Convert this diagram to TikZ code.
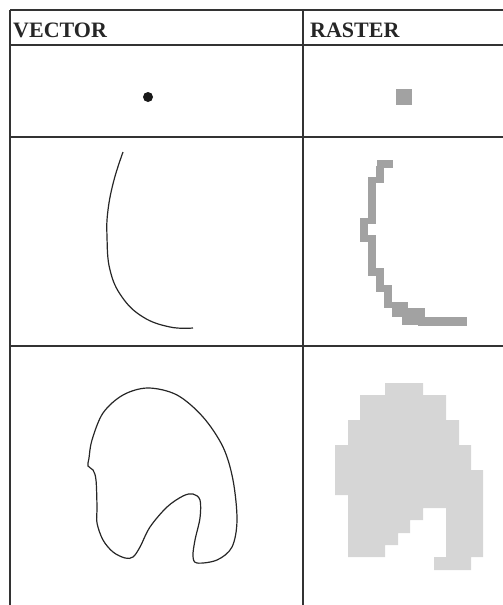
\documentclass[tikz,border=0pt]{standalone}
\usepackage{fontspec}
\setmainfont{Liberation Serif}
\definecolor{rule}{HTML}{333333}
\definecolor{rasterdark}{HTML}{A2A2A2}
\definecolor{rasterlight}{HTML}{D6D6D6}
\tikzset{
  gridline/.style={draw=rule, line width=1.8pt},
  headtext/.style={anchor=base west, inner sep=0pt, font=\fontsize{22}{26}\selectfont\bfseries, text=black!85},
  vecline/.style={draw=black!85, line width=1.2pt},
  rasterA/.style={fill=rasterdark, draw=none},
  rasterB/.style={fill=rasterlight, draw=none}
}
\begin{document}
\begin{tikzpicture}[x=1pt,y=-1pt]
\useasboundingbox (0,0) rectangle (503,605);
% table coordinates
\coordinate (tl) at (10,10);
\coordinate (tr) at (503,10);
\coordinate (h1l) at (10,45);
\coordinate (h1r) at (503,45);
\coordinate (r1l) at (10,137);
\coordinate (r1r) at (503,137);
\coordinate (r2l) at (10,346);
\coordinate (r2r) at (503,346);
\coordinate (bl) at (10,605);
\coordinate (mt) at (303,10);
\coordinate (mb) at (303,605);
\draw[gridline] (tl) -- (tr);
\draw[gridline] (h1l) -- (h1r);
\draw[gridline] (r1l) -- (r1r);
\draw[gridline] (r2l) -- (r2r);
\draw[gridline] (tl) -- (bl);
\draw[gridline] (mt) -- (mb);
% headers
\node[headtext] (hv) at (13,37) {VECTOR};
\node[headtext] (hr) at (310,37) {RASTER};
% row 1: point
\fill[black!90] (148,97) circle (5);
\fill[rasterA] (396,89) rectangle (412,105);
% row 2: curve
\draw[vecline] plot[smooth, tension=0.7] coordinates {(123,152) (114,180) (108,210) (107,237) (110,270) (122,297) (143,317) (170,327) (193,328)};
\fill[rasterA] (377,160) rectangle (393,168);
\fill[rasterA] (376,166) rectangle (384,183);
\fill[rasterA] (368,177) rectangle (376,224);
\fill[rasterA] (360,218) rectangle (368,242);
\fill[rasterA] (368,235) rectangle (376,276);
\fill[rasterA] (376,268) rectangle (384,292);
\fill[rasterA] (384,285) rectangle (392,308);
\fill[rasterA] (392,302) rectangle (408,317);
\fill[rasterA] (402,308) rectangle (425,325);
\fill[rasterA] (418,317) rectangle (467,326);
% row 3: area
\draw[vecline] plot[smooth cycle, tension=0.55] coordinates {
 (148,388) (177,395) (203,417) (223,447) (233,480) (237,520) (232,547) (217,560) (197,563)
 (193,556) (195,540) (200,518) (200,500) (193,494) (183,496) (167,507) (150,527) (140,547)
 (133,557) (125,558) (113,552) (103,540) (97,523) (97,507) (96,480) (93,470) (88,466)
 (89,458) (92,440) (103,413) (123,395)};
\fill[rasterB] (385,383) -- (423,383) -- (423,395) -- (446,395) -- (446,420) -- (459,420)
 -- (459,445) -- (471,445) -- (471,470) -- (483,470) -- (483,557) -- (471,557) -- (471,570)
 -- (434,570) -- (434,557) -- (446,557) -- (446,508) -- (423,508) -- (423,520) -- (410,520)
 -- (410,533) -- (398,533) -- (398,545) -- (385,545) -- (385,557) -- (348,557) -- (348,495)
 -- (335,495) -- (335,445) -- (348,445) -- (348,420) -- (360,420) -- (360,395) -- (385,395) -- cycle;
\end{tikzpicture}
\end{document}
